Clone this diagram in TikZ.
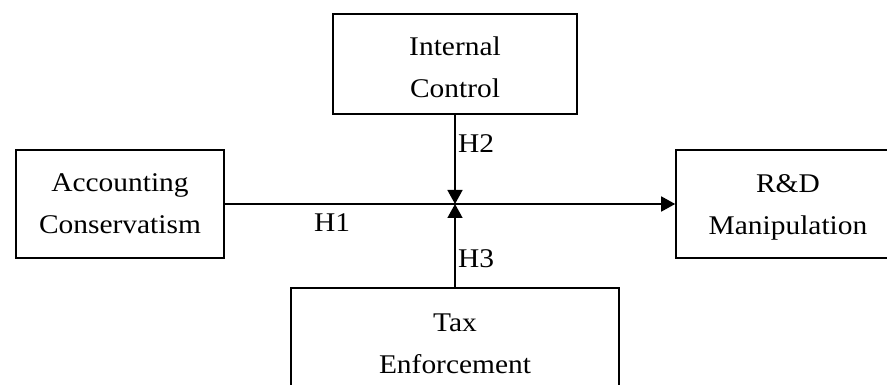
\documentclass[tikz,border=0pt]{standalone}
\usepackage{fontspec}
\setmainfont[FakeStretch=1.09]{Liberation Serif}
\usetikzlibrary{arrows.meta}

\begin{document}
\begin{tikzpicture}[
    x=1pt, y=-1pt,
    box/.style={rectangle, draw, line width=1.6pt, align=center, inner sep=0pt, font=\fontsize{27}{42}\selectfont},
    arrow/.style={-{Triangle[length=14pt, width=15pt]}, line width=1.6pt},
    hlabel/.style={inner sep=0pt, font=\fontsize{27}{32}\selectfont}
]
\useasboundingbox (0,0) rectangle (887,385);
\clip (0,0) rectangle (887,385);

\node[box, minimum width=244pt, minimum height=100pt] (ctrl) at (455,64) {\rule{0pt}{26pt}Internal\\Control};
\node[box, minimum width=208pt, minimum height=108pt] (acc) at (120,204) {Accounting\\Conservatism};
\node[box, minimum width=224pt, minimum height=108pt] (rd) at (788,204) {\rule{0pt}{25pt}R\&D\\Manipulation};
\node[box, minimum width=328pt, minimum height=111pt] (tax) at (455,343.5) {Tax\\Enforcement};
\coordinate (mid) at (ctrl.south |- acc.east);

\draw[arrow] (acc.east) -- (rd.west);
\draw[arrow] (ctrl.south) -- (mid);
\draw[arrow] (tax.north -| mid) -- (mid);

\node[hlabel, anchor=base] (h1) at (332,232) {H1};
\node[hlabel, anchor=base west] (h2) at (458,152.5) {H2};
\node[hlabel, anchor=base west] (h3) at (458,267.5) {H3};
\end{tikzpicture}
\end{document}
